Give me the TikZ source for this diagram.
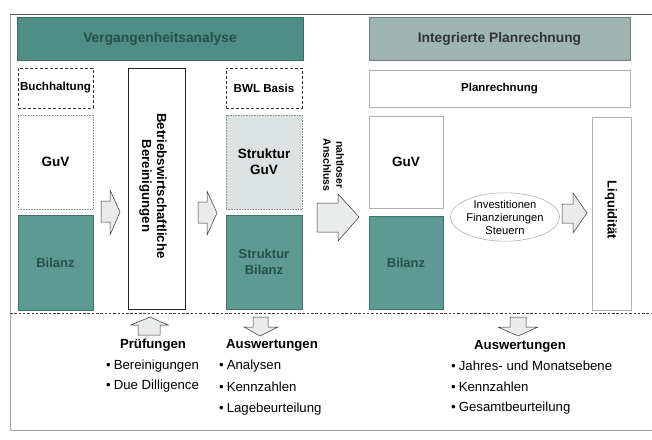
\documentclass[tikz,border=0pt]{standalone}
\usepackage{fontspec}
\setmainfont{Liberation Sans}
\usetikzlibrary{shapes.geometric}
\definecolor{teal1}{HTML}{4F8E87}
\definecolor{teal2}{HTML}{5E9A94}
\definecolor{tealtext}{HTML}{24504A}
\definecolor{grayteal}{HTML}{9EB5B1}
\definecolor{lightbox}{HTML}{DCE1E1}
\definecolor{arrowfill}{HTML}{EAECEC}
\tikzset{
  box/.style={rectangle, inner sep=0pt, align=center, font=\bfseries\fontsize{13}{15}\selectfont},
  dashbox/.style={box, draw=black!80, densely dashed, line width=0.8pt},
  dotbox/.style={box, draw=black!45, densely dotted, line width=0.6pt},
  tealbox/.style={box, fill=teal2, draw=teal1!80!black, line width=0.5pt, text=tealtext},
  lightframe/.style={box, draw=black!30, line width=0.6pt},
  blockarrow/.style={fill=arrowfill, draw=black!80, line width=0.5pt, line join=miter},
  title/.style={font=\bfseries\fontsize{13.2}{15}\selectfont},
  bul/.style={anchor=west, inner sep=0pt, font=\fontsize{13.2}{15}\selectfont},
}
\begin{document}
\begin{tikzpicture}[x=1pt,y=-1pt]
\useasboundingbox (0,0) rectangle (652,439);
% outer frame
\draw[black!35, line width=0.8pt] (655,430) -- (10,430) -- (10,14);
\draw[black!65, line width=1pt] (10,14) -- (655,14);
% headers
\node[box, fill=teal1, draw=teal1!75!black, minimum width=286pt, minimum height=43pt, text=tealtext, font=\bfseries\fontsize{13.8}{15}\selectfont] (hdrL) at (160,38.5) {Vergangenheitsanalyse};
\node[box, fill=grayteal, draw=grayteal!70!black, minimum width=261pt, minimum height=43pt, text=black!80, font=\bfseries\fontsize{13.8}{15}\selectfont] (hdrR) at (499.5,38.5) {Integrierte Planrechnung};
% left column
\node[dashbox, minimum width=75pt, minimum height=40pt, font=\bfseries\fontsize{11.6}{13}\selectfont] (buch) at (55.5,88) {Buchhaltung};
\node[dotbox, minimum width=75pt, minimum height=94pt, font=\bfseries\fontsize{13.5}{15}\selectfont] (guvL) at (55.5,162) {GuV};
\node[tealbox, minimum width=75pt, minimum height=95pt] (bilL) at (55.5,262.5) {Bilanz};
% Bereinigungen
\node[box, draw=black!85, line width=1pt, minimum width=57pt, minimum height=241pt] (bwb) at (156.5,188.5) {};
\node[box, rotate=-90, font=\bfseries\fontsize{13.2}{15}\selectfont] (bwbt) at (153,186) {Betriebswirtschaftliche\\Bereinigungen};
% BWL column
\node[dashbox, minimum width=76pt, minimum height=40pt, font=\bfseries\fontsize{11.6}{13}\selectfont] (bwl) at (264,88) {BWL Basis};
\node[dotbox, fill=lightbox, minimum width=76pt, minimum height=94pt, font=\bfseries\fontsize{13.5}{16}\selectfont] (sguv) at (264,162) {Struktur\\GuV};
\node[tealbox, minimum width=76pt, minimum height=94pt, font=\bfseries\fontsize{13}{16}\selectfont] (sbil) at (264,262) {Struktur\\Bilanz};
% nahtloser Anschluss
\node[box, rotate=-90, font=\bfseries\fontsize{10.5}{13}\selectfont] (naht) at (333.5,165) {nahtloser\\Anschluss};
% right part
\node[lightframe, minimum width=261pt, minimum height=37pt, font=\bfseries\fontsize{11.5}{13}\selectfont] (plan) at (499.5,88.5) {Planrechnung};
\node[lightframe, minimum width=74pt, minimum height=92pt, font=\bfseries\fontsize{13.5}{15}\selectfont] (guvR) at (406,162) {GuV};
\node[tealbox, minimum width=74pt, minimum height=93pt] (bilR) at (406,262.5) {Bilanz};
\node[ellipse, draw=black!30, line width=0.6pt, minimum width=106pt, minimum height=46pt, inner sep=0pt, align=center, font=\fontsize{11.2}{13}\selectfont] (ell) at (505,217) {Investitionen\\Finanzierungen\\Steuern};
\node[lightframe, minimum width=39pt, minimum height=193pt] (liq) at (611.5,213.5) {};
\node[box, rotate=-90] (liqt) at (611,210) {Liquidität};
% block arrows
\draw[blockarrow] (101,201) -- (110,201) -- (110,190) -- (120,212) -- (110,235) -- (110,222) -- (101,222) -- cycle;
\draw[blockarrow] (198,202) -- (207,202) -- (207,191) -- (217,213) -- (207,235) -- (207,223) -- (198,223) -- cycle;
\draw[blockarrow] (317,203) -- (338,203) -- (338,194) -- (359,217) -- (338,241) -- (338,232) -- (317,232) -- cycle;
\draw[blockarrow] (562,204) -- (573,204) -- (573,193) -- (587,213) -- (573,233) -- (573,223) -- (562,223) -- cycle;
% separator
\draw[black!75, dash pattern=on 2.5pt off 1.8pt, line width=0.6pt] (10,313) -- (652,313);
% vertical arrows
\draw[blockarrow] (138,335) -- (138,325) -- (131,325) -- (150,317) -- (168,325) -- (160,325) -- (160,335) -- cycle;
\draw[blockarrow] (253,317) -- (268,317) -- (268,327) -- (278,327) -- (260,336) -- (244,327) -- (253,327) -- cycle;
\draw[blockarrow] (510,317) -- (526,317) -- (526,327) -- (538,327) -- (518,336) -- (498,327) -- (510,327) -- cycle;
% lower texts
\node[title] (pruef) at (153,345) {Prüfungen};
\node[bul] (p1) at (106,366) {•\hspace{3pt}Bereinigungen};
\node[bul] (p2) at (106,386) {•\hspace{3pt}Due Dilligence};
\node[title] (ausw1) at (272,345) {Auswertungen};
\node[bul] (a1) at (219,366) {•\hspace{3pt}Analysen};
\node[bul] (a2) at (219,387) {•\hspace{3pt}Kennzahlen};
\node[bul] (a3) at (219,409) {•\hspace{3pt}Lagebeurteilung};
\node[title] (ausw2) at (520,346) {Auswertungen};
\node[bul] (b1) at (451,366) {•\hspace{3pt}Jahres- und Monatsebene};
\node[bul] (b2) at (451,387) {•\hspace{3pt}Kennzahlen};
\node[bul] (b3) at (451,408) {•\hspace{3pt}Gesamtbeurteilung};
\end{tikzpicture}
\end{document}
